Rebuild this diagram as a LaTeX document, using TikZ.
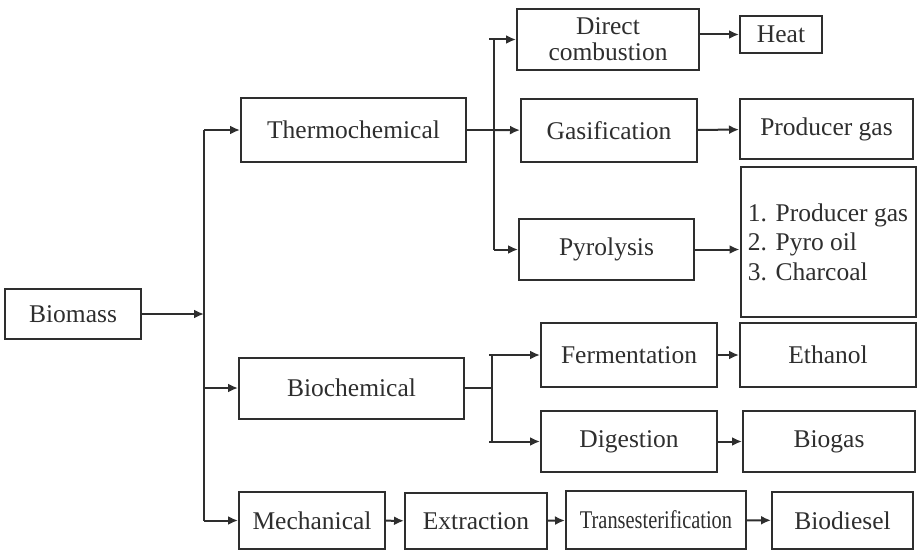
\documentclass[tikz,border=0pt]{standalone}
\usepackage{fontspec}
\setmainfont{Liberation Serif}
\usetikzlibrary{arrows.meta}
\definecolor{ink}{HTML}{2E2E2E}

\tikzset{
  box/.style={draw=ink, text=ink, rectangle, line width=2pt, inner sep=2pt,
    font=\fontsize{25.5}{28}\selectfont, align=center},
}

\begin{document}
\begin{tikzpicture}[x=1pt,y=-1pt,->,>={Latex[length=10pt,width=9pt]},line width=2pt,draw=ink]
  \useasboundingbox (0,0) rectangle (917,551);

  % source and the three routes
  \node[box,minimum width=136pt,minimum height=50pt] (bio)     at (73,314)    {Biomass};
  \node[box,minimum width=225pt,minimum height=64pt] (therm)   at (353.5,130) {Thermochemical};
  \node[box,minimum width=225pt,minimum height=61pt] (biochem) at (351.5,388) {Biochemical};
  \node[box,minimum width=146pt,minimum height=57pt] (mech)    at (312,520.5) {Mechanical};

  % thermochemical branch
  \node[box,minimum width=182pt,minimum height=61pt] (direct)  at (608,39.5)  {Direct\\[-2pt]combustion};
  \node[box,minimum width=82pt,minimum height=37pt]  (heat)    at (781,34.5)  {Heat};
  \node[box,minimum width=176pt,minimum height=63pt] (gasif)   at (609,130.5) {Gasification};
  \node[box,minimum width=173pt,minimum height=60pt] (prodgas) at (826.5,129) {Producer gas};
  \node[box,minimum width=175pt,minimum height=61pt] (pyro)    at (606.5,249.5) {Pyrolysis};
  \node[box,minimum width=175pt,minimum height=150pt,align=left,
        font=\fontsize{25.5}{29.5}\selectfont] (pyroout) at (828,242)
        {1. Producer gas\\2. Pyro oil\\3. Charcoal};

  % biochemical branch
  \node[box,minimum width=176pt,minimum height=64pt] (ferm)    at (629,355)   {Fermentation};
  \node[box,minimum width=176pt,minimum height=64pt] (ethanol) at (828,355)   {Ethanol};
  \node[box,minimum width=176pt,minimum height=61pt] (dig)     at (629,441.5) {Digestion};
  \node[box,minimum width=172pt,minimum height=61pt] (biogas)  at (829,441.5) {Biogas};

  % mechanical branch
  \node[box,minimum width=142pt,minimum height=56pt] (extr)    at (476,521)   {Extraction};
  \node[box,minimum width=180pt,minimum height=58pt] (trans)   at (656,520)   {\scalebox{0.8}[1]{Transesterification}};
  \node[box,minimum width=141pt,minimum height=57pt] (biodsl)  at (842.5,520.5) {Biodiesel};

  % junction points
  \coordinate (bus1) at (204,314);
  \coordinate (bus2) at (494,130);
  \coordinate (bus3) at (492,388);

  % biomass to routes
  \draw (bio) -- (bus1);
  \draw[-] (bus1 |- therm) -- (bus1 |- mech);
  \draw (bus1 |- therm) -- (therm);
  \draw (bus1 |- biochem) -- (biochem);
  \draw (bus1 |- mech) -- (mech);

  % thermochemical
  \draw[-] (therm) -- (bus2);
  \draw (bus2) -- (gasif);
  \draw[-] (bus2 |- direct) -- (bus2 |- pyro);
  \draw ([xshift=-5pt]bus2 |- direct) -- (direct);
  \draw (bus2 |- pyro) -- (pyro);
  \draw (direct.east |- heat) -- (heat);
  \draw (gasif) -- (prodgas);
  \draw (pyro.east) -- (pyro.east -| pyroout.west);

  % biochemical
  \draw[-] (biochem) -- (bus3);
  \draw[-] (bus3 |- ferm) -- (bus3 |- dig);
  \draw ([xshift=-3pt]bus3 |- ferm) -- (ferm);
  \draw ([xshift=-3pt]bus3 |- dig) -- (dig);
  \draw (ferm) -- (ethanol);
  \draw (dig) -- (biogas);

  % mechanical
  \draw (mech) -- (extr);
  \draw (extr) -- (trans);
  \draw (trans) -- (biodsl);
\end{tikzpicture}
\end{document}
